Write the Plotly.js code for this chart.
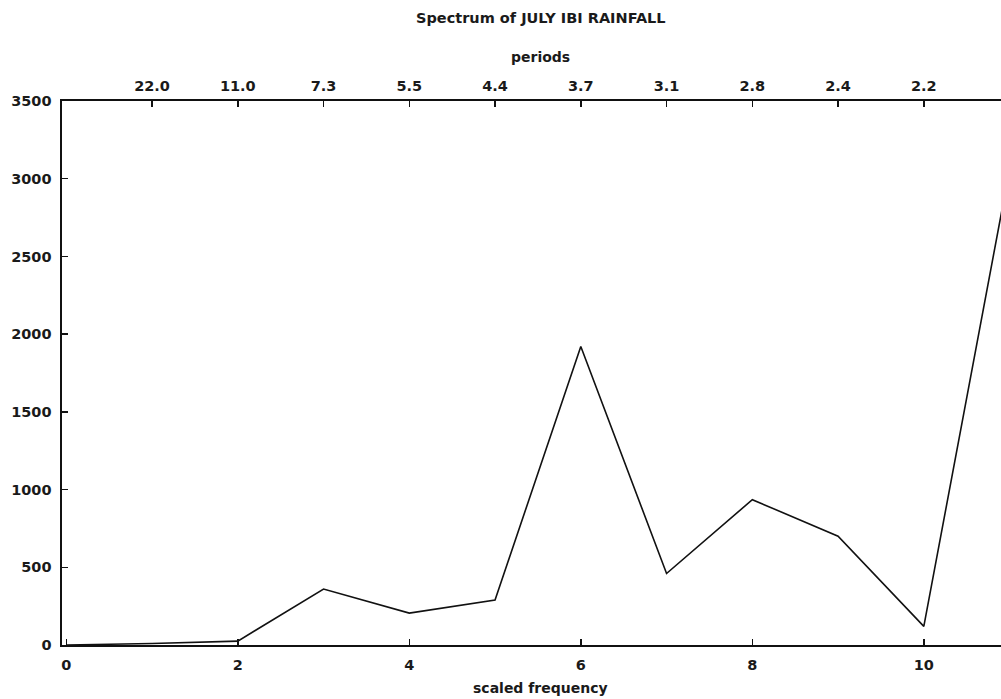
<!DOCTYPE html>
<html>
<head>
<meta charset="utf-8">
<script src="https://cdn.plot.ly/plotly-3.0.1.min.js"></script>
<style>html,body{margin:0;padding:0;overflow:hidden;background:#fff;}#chart{width:1001px;height:699px;}</style>
</head>
<body>
<div id="chart"></div>
<script>
const frequency = [0, 1, 2, 3, 4, 5, 6, 7, 8, 9, 10, 11];
const spectrum = [0, 10, 25, 360, 205, 290, 1920, 460, 935, 700, 120, 3060];
const periodTicks = [1, 2, 3, 4, 5, 6, 7, 8, 9, 10];
const periodLabels = ["22.0", "11.0", "7.3", "5.5", "4.4", "3.7", "3.1", "2.8", "2.4", "2.2"];
const freqTicks = [0, 2, 4, 6, 8, 10];
const yTicks = [0, 500, 1000, 1500, 2000, 2500, 3000, 3500];

const fntTick = {family: "DejaVu Sans", size: 14.5, color: "#1a1a1a", weight: "bold"};
const fntTitle = {family: "DejaVu Sans", size: 14.5, color: "#1a1a1a", weight: "bold"};
const fntAxis = {family: "DejaVu Sans", size: 14, color: "#1a1a1a", weight: "bold"};

const trace = {
  x: frequency, y: spectrum, type: "scatter", mode: "lines",
  line: {color: "#111", width: 1.6}, hoverinfo: "skip", showlegend: false
};
const topTrace = {
  x: [0], y: [0], xaxis: "x2", yaxis: "y", type: "scatter", mode: "none",
  hoverinfo: "skip", showlegend: false
};

const layout = {
  width: 1001, height: 699,
  margin: {l: 62, r: 0, t: 101, b: 54},
  paper_bgcolor: "#fff", plot_bgcolor: "#fff",
  font: fntTick,
  xaxis: {
    range: [-0.05, 10.9], tickvals: freqTicks, ticks: "inside", ticklen: 6,
    tickwidth: 1.5, tickcolor: "#111", showline: true, linecolor: "#111", linewidth: 1.6,
    showgrid: false, zeroline: false, tickfont: fntTick, ticklabelstandoff: 6
  },
  xaxis2: {
    overlaying: "x", side: "top", matches: "x", range: [-0.05, 10.9],
    tickvals: periodTicks, ticktext: periodLabels, ticks: "inside", ticklen: 6,
    tickwidth: 1.5, tickcolor: "#111", showline: true, linecolor: "#111", linewidth: 1.6,
    showgrid: false, zeroline: false, tickfont: fntTick, ticklabelstandoff: 3
  },
  yaxis: {
    range: [0, 3500], tickvals: yTicks, ticks: "inside", ticklen: 6,
    tickwidth: 1.5, tickcolor: "#111", showline: true, linecolor: "#111", linewidth: 1.6,
    showgrid: false, zeroline: false, tickfont: fntTick, ticklabelstandoff: 6
  },
  annotations: [
    {text: "Spectrum of JULY IBI RAINFALL", xref: "paper", yref: "paper", x: 0.51, y: 1, yshift: 83,
     showarrow: false, font: fntTitle, xanchor: "center", yanchor: "middle"},
    {text: "periods", xref: "paper", yref: "paper", x: 0.51, y: 1, yshift: 44,
     showarrow: false, font: fntAxis, xanchor: "center", yanchor: "middle"},
    {text: "scaled frequency", xref: "paper", yref: "paper", x: 0.51, y: 0, yshift: -43,
     showarrow: false, font: fntAxis, xanchor: "center", yanchor: "middle"}
  ]
};

Plotly.newPlot("chart", [trace, topTrace], layout, {displayModeBar: false, staticPlot: true});
</script>
</body>
</html>
